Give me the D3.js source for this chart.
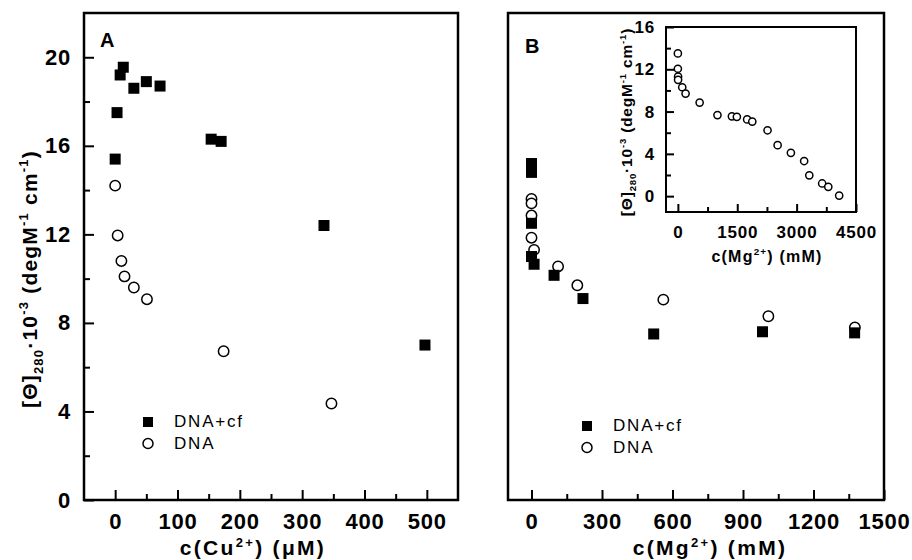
<!DOCTYPE html>
<html>
<head>
<meta charset="utf-8">
<script src="https://cdn.jsdelivr.net/npm/d3@7"></script>
<style>
  body { margin: 0; background: #fff; }
  svg { font-family: "Liberation Sans", Arial, sans-serif; }
</style>
</head>
<body>
<script>
// Panel A : Cu2+ (µM)
const cuCfX = [0, 3, 8, 13, 30, 50, 72, 154, 170, 335, 497]
const cuCfY = [15.4, 17.5, 19.2, 19.55, 18.6, 18.9, 18.7, 16.3, 16.2, 12.4, 7.0]
const cuDnaX = [0, 4, 10, 15, 30, 51, 174, 347]
const cuDnaY = [14.2, 11.95, 10.8, 10.1, 9.6, 9.07, 6.72, 4.36]

// Panel B : Mg2+ (mM)
const mgCfX = [0, 0, 0, 0, 11, 96, 219, 520, 983, 1375]
const mgCfY = [15.2, 14.8, 12.5, 11.0, 10.65, 10.15, 9.1, 7.5, 7.6, 7.55]
const mgDnaX = [0, 0, 0, 0, 11, 113, 195, 561, 1008, 1376]
const mgDnaY = [13.6, 13.4, 12.85, 11.85, 11.3, 10.55, 9.7, 9.05, 8.3, 7.8]

// Encart : DNA seul, large gamme de Mg2+
const insetX = [0, 0, 5, 5, 110, 195, 550, 1000, 1365, 1490, 1750, 1880, 2265, 2520, 2855, 3190, 3320, 3645, 3800, 4075]
const insetY = [13.5, 12.05, 11.3, 11.0, 10.3, 9.7, 8.85, 7.67, 7.55, 7.5, 7.26, 7.05, 6.23, 4.82, 4.1, 3.32, 1.97, 1.2, 0.88, 0.05]

// Graduations
const yTicks = [0, 4, 8, 12, 16, 20]
const yMinor = [2, 6, 10, 14, 18]
const cuTicks = [0, 100, 200, 300, 400, 500]
const cuMinor = [50, 150, 250, 350, 450]
const mgTicks = [0, 300, 600, 900, 1200, 1500]
const mgMinor = [150, 450, 750, 1050, 1350]
const insetXTicks = [0, 1500, 3000, 4500]
const insetXMinor = [750, 2250, 3750]
const insetYTicks = [0, 4, 8, 12, 16]
const insetYMinor = [2, 6, 10, 14]

const seriesNames = ['DNA+cf', 'DNA']

const svg = d3.select('body')
  .append('svg')
  .attr('width', 912)
  .attr('height', 560)

// texte avec indices / exposants
function addRich(text, parts, fs, up) {
  let shift = 0
  parts.forEach(([s, kind]) => {
    const target = kind === 'sup' ? -(up || 0.42) * fs : kind === 'sub' ? 0.28 * fs : 0
    text.append('tspan')
      .attr('dy', target - shift)
      .attr('font-size', kind ? fs * 0.62 : fs)
      .text(s)
    shift = target
  })
}

function axis(gen, x, y, values, size, pad, fs, label, ls) {
  const g = svg.append('g')
    .attr('transform', `translate(${x},${y})`)
    .call(gen.tickValues(values).tickSize(size).tickPadding(pad)
      .tickFormat(label ? d3.format('d') : ''))
  g.select('.domain').remove()
  g.selectAll('line').attr('stroke', '#000').attr('stroke-width', 2)
  g.attr('font-family', null).attr('font-size', fs).attr('font-weight', 'bold')
  g.selectAll('text').attr('letter-spacing', ls || 0)
  return g
}

function frame(x0, y0, x1, y1, w) {
  svg.append('rect')
    .attr('x', x0).attr('y', y0)
    .attr('width', x1 - x0).attr('height', y1 - y0)
    .attr('fill', 'none').attr('stroke', '#000').attr('stroke-width', w)
}

function points(xs, ys, x, y, r) {
  svg.append('g').selectAll('circle')
    .data(xs.map((d, i) => [d, ys[i]]))
    .enter()
    .append('circle')
      .attr('cx', d => x(d[0]))
      .attr('cy', d => y(d[1]))
      .attr('r', r)
      .attr('fill', '#fff')
      .attr('stroke', '#000')
      .attr('stroke-width', 1.5)
}

function squares(xs, ys, x, y, s) {
  svg.append('g').selectAll('rect')
    .data(xs.map((d, i) => [d, ys[i]]))
    .enter()
    .append('rect')
      .attr('x', d => x(d[0]) - s / 2)
      .attr('y', d => y(d[1]) - s / 2)
      .attr('width', s)
      .attr('height', s)
      .attr('fill', '#000')
}

function legend(x, y) {
  svg.append('rect').attr('x', x - 5).attr('y', y - 5).attr('width', 10).attr('height', 10)
  svg.append('circle').attr('cx', x).attr('cy', y + 21.5).attr('r', 5)
    .attr('fill', '#fff').attr('stroke', '#000').attr('stroke-width', 1.5)
  seriesNames.forEach((n, i) => {
    svg.append('text')
      .attr('x', x + 26).attr('y', y + 5 + i * 21.5)
      .attr('font-size', 17).attr('letter-spacing', 1.8)
      .text(n)
  })
}

// ---------- Panel A ----------
const xA = d3.scaleLinear().domain([-50, 550]).range([84, 458])
const yA = d3.scaleLinear().domain([0, 22]).range([500, 13])

axis(d3.axisBottom(xA), 0, 500, cuTicks, -10, 13, 22, true, 0.8)
axis(d3.axisBottom(xA), 0, 500, cuMinor, -6, 13, 22, false)
axis(d3.axisLeft(yA), 84, 0, yTicks, -10, 13, 22, true, 0.8)
axis(d3.axisLeft(yA), 84, 0, yMinor, -6, 13, 22, false)
frame(84, 13, 458, 500, 2.5)

points(cuDnaX, cuDnaY, xA, yA, 5.2)
squares(cuCfX, cuCfY, xA, yA, 11)
legend(148, 422)

svg.append('text').attr('x', 100).attr('y', 47)
  .attr('font-size', 20).attr('font-weight', 'bold').text('A')

const tA = svg.append('text').attr('x', 253).attr('y', 555)
  .attr('text-anchor', 'middle').attr('font-weight', 'bold').attr('letter-spacing', 2.3)
addRich(tA, [['c(Cu'], ['2+', 'sup'], [') (\u03bcM)']], 21, 0.36)

const yTitle = svg.append('text')
  .attr('transform', 'translate(37,279) rotate(-90)')
  .attr('text-anchor', 'middle').attr('font-weight', 'bold').attr('letter-spacing', 1.2)
addRich(yTitle, [['[\u0398]'], ['280', 'sub'], ['\u00b710'], ['-3', 'sup'], [' (degM'], ['-1', 'sup'], [' cm'], ['-1', 'sup'], [')']], 21)

// ---------- Panel B ----------
const xB = d3.scaleLinear().domain([-100, 1500]).range([508, 884])
const yB = d3.scaleLinear().domain([0, 22]).range([500, 13])

axis(d3.axisBottom(xB), 0, 500, mgTicks, -10, 13, 22, true, 0.8)
axis(d3.axisBottom(xB), 0, 500, mgMinor, -6, 13, 22, false)
frame(508, 13, 884, 500, 2.5)

points(mgDnaX, mgDnaY, xB, yB, 5.2)
squares(mgCfX, mgCfY, xB, yB, 11)
legend(587, 426)

svg.append('text').attr('x', 525).attr('y', 53)
  .attr('font-size', 20).attr('font-weight', 'bold').text('B')

const tB = svg.append('text').attr('x', 710).attr('y', 555)
  .attr('text-anchor', 'middle').attr('font-weight', 'bold').attr('letter-spacing', 2.3)
addRich(tB, [['c(Mg'], ['2+', 'sup'], [') (mM)']], 21, 0.36)

// ---------- Encart ----------
const xI = d3.scaleLinear().domain([-300, 4500]).range([666, 856])
const yI = d3.scaleLinear().domain([-1.5, 16]).range([212, 27])

axis(d3.axisBottom(xI), 0, 212, insetXTicks, -8, 14, 17, true, 0.8)
axis(d3.axisBottom(xI), 0, 212, insetXMinor, -5, 14, 17, false)
axis(d3.axisLeft(yI), 666, 0, insetYTicks, -8, 11, 17, true, 0.8)
axis(d3.axisLeft(yI), 666, 0, insetYMinor, -5, 11, 17, false)
frame(666, 27, 856, 212, 2)

points(insetX, insetY, xI, yI, 3.6)

const tI = svg.append('text').attr('x', 767).attr('y', 262)
  .attr('text-anchor', 'middle').attr('font-weight', 'bold').attr('letter-spacing', 1.2)
addRich(tI, [['c(Mg'], ['2+', 'sup'], [') (mM)']], 16)

const yTitleI = svg.append('text')
  .attr('transform', 'translate(632,122) rotate(-90)')
  .attr('text-anchor', 'middle').attr('font-weight', 'bold').attr('letter-spacing', 0.8)
addRich(yTitleI, [['[\u0398]'], ['280', 'sub'], ['\u00b710'], ['-3', 'sup'], [' (degM'], ['-1', 'sup'], [' cm'], ['-1', 'sup'], [')']], 15.5)
</script>
</body>
</html>
